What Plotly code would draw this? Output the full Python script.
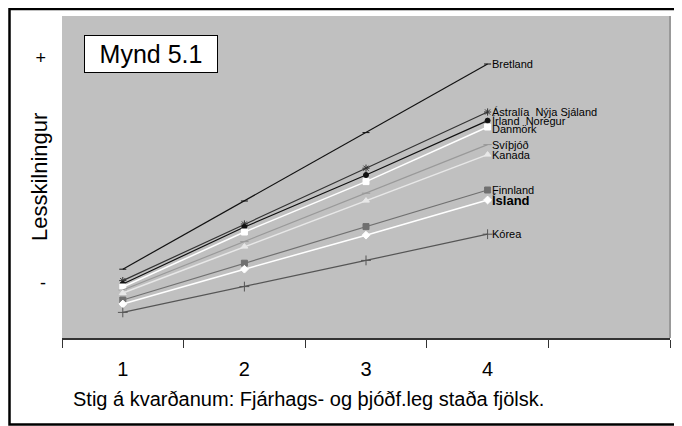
import plotly.graph_objects as go

categories = ["1", "2", "3", "4"]
all_categories = ["1", "2", "3", "4", " "]

series_names = ["Bretland", "Ástralía  Nýja Sjáland", "Írland  Noregur", "Danmörk",
                "Svíþjóð", "Kanada", "Finnland", "Ísland", "Kórea"]

bretland = [465.4, 499.5, 533.7, 568.0]
astralia = [459.7, 488.0, 515.9, 544.0]
irland = [458.0, 486.5, 512.5, 539.7]
danmork = [456.5, 484.0, 509.2, 536.5]
svithjod = [455.0, 479.2, 503.4, 527.7]
kanada = [453.5, 476.7, 499.7, 522.7]
finnland = [450.0, 468.4, 486.7, 505.0]
island = [448.0, 465.4, 482.4, 500.0]
korea = [443.8, 456.7, 469.8, 482.9]

y_tick_vals = [571.0, 458.5]
y_tick_text = ["+", "-"]

values = [bretland, astralia, irland, danmork, svithjod, kanada, finnland, island, korea]

styles = [
    dict(color="#111111", symbol="line-ew-open", size=5, lw=1.2),
    dict(color="#333333", symbol="asterisk-open", size=6, lw=1.2),
    dict(color="#111111", symbol="circle", size=5, lw=1.2),
    dict(color="#ffffff", symbol="square", size=6, lw=1.5),
    dict(color="#999999", symbol="line-ew-open", size=6, lw=1.2),
    dict(color="#e8e8e8", symbol="triangle-up", size=6, lw=1.5),
    dict(color="#707070", symbol="square", size=6, lw=1.2),
    dict(color="#ffffff", symbol="diamond", size=6, lw=1.5),
    dict(color="#555555", symbol="cross-thin-open", size=7, lw=1.2),
]

fig = go.Figure()
for name, vals, st in zip(series_names, values, styles):
    fig.add_trace(go.Scatter(
        x=categories, y=vals, mode="lines+markers", name=name,
        line=dict(color=st["color"], width=st["lw"]),
        marker=dict(symbol=st["symbol"], size=st["size"], color=st["color"],
                    line=dict(color=st["color"], width=1)),
        showlegend=False, hoverinfo="skip",
    ))

annotations = []
label_offsets = {"Danmörk": -2}
last_index = len(categories) - 1
for name, vals in zip(series_names, values):
    bold = name == "Ísland"
    annotations.append(dict(
        x=last_index, y=vals[-1], xref="x", yref="y", text=("<b>%s</b>" % name) if bold else name,
        showarrow=False, xanchor="left", yanchor="middle", xshift=2,
        yshift=label_offsets.get(name, 0),
        font=dict(family="Liberation Sans, Arial", size=13 if bold else 11, color="#000000"),
    ))

# page body has an 8px default margin: the figure starts at screen (8, 8)
OFF = 8
W, H = 674, 418
L, R, T, B = 54, 12, 8, 88
pw, ph = W - L - R, H - T - B

def px(x):
    return (x - OFF - L) / pw

def py(y):
    return (H - B - (y - OFF)) / ph

annotations.append(dict(
    x=px(151), y=py(54), xref="paper", yref="paper", text="Mynd 5.1", showarrow=False,
    xanchor="center", yanchor="middle", width=132, height=36, borderpad=0,
    bgcolor="#ffffff", bordercolor="#000000", borderwidth=1,
    font=dict(family="Liberation Sans, Arial", size=25, color="#000000"),
))
annotations.append(dict(
    x=px(39), y=py(177), xref="paper", yref="paper", text="Lesskilningur", textangle=-90,
    showarrow=False, xanchor="center", yanchor="middle",
    font=dict(family="Liberation Sans, Arial", size=22, color="#000000"),
))
annotations.append(dict(
    x=px(71), y=py(399), xref="paper", yref="paper",
    text="Stig á kvarðanum: Fjárhags- og þjóðf.leg staða fjölsk.",
    showarrow=False, xanchor="left", yanchor="middle",
    font=dict(family="Liberation Sans, Arial", size=20, color="#000000"),
))

fig.update_layout(
    width=W, height=H,
    margin=dict(l=L, r=R, t=T, b=B),
    paper_bgcolor="#ffffff", plot_bgcolor="#c0c0c0",
    annotations=annotations,
    shapes=[
        dict(type="rect", xref="paper", yref="paper", x0=px(9.5), x1=px(700), y0=py(424.5), y1=py(9),
             line=dict(color="#000000", width=2.5), layer="above"),
        dict(type="line", xref="paper", yref="paper", x0=1, x1=1, y0=0, y1=1,
             line=dict(color="#999999", width=2), layer="below"),
    ],
    xaxis=dict(
        type="category", categoryorder="array", categoryarray=all_categories,
        range=[-0.5, 4.5], tickson="boundaries", ticks="outside", ticklen=8,
        tickcolor="#333333", tickwidth=1, showline=True, linecolor="#333333", linewidth=2,
        showgrid=False, zeroline=False, fixedrange=True,
        tickfont=dict(family="Liberation Sans, Arial", size=20, color="#000000"),
        ticklabelstandoff=12,
    ),
    yaxis=dict(
        range=[431, 592], tickmode="array", tickvals=y_tick_vals, ticktext=y_tick_text,
        ticks="", showgrid=False, zeroline=False, showline=False, ticklabelstandoff=15,
        tickfont=dict(family="Liberation Sans, Arial", size=18, color="#000000"),
    ),
)

fig.write_html("out.html")
